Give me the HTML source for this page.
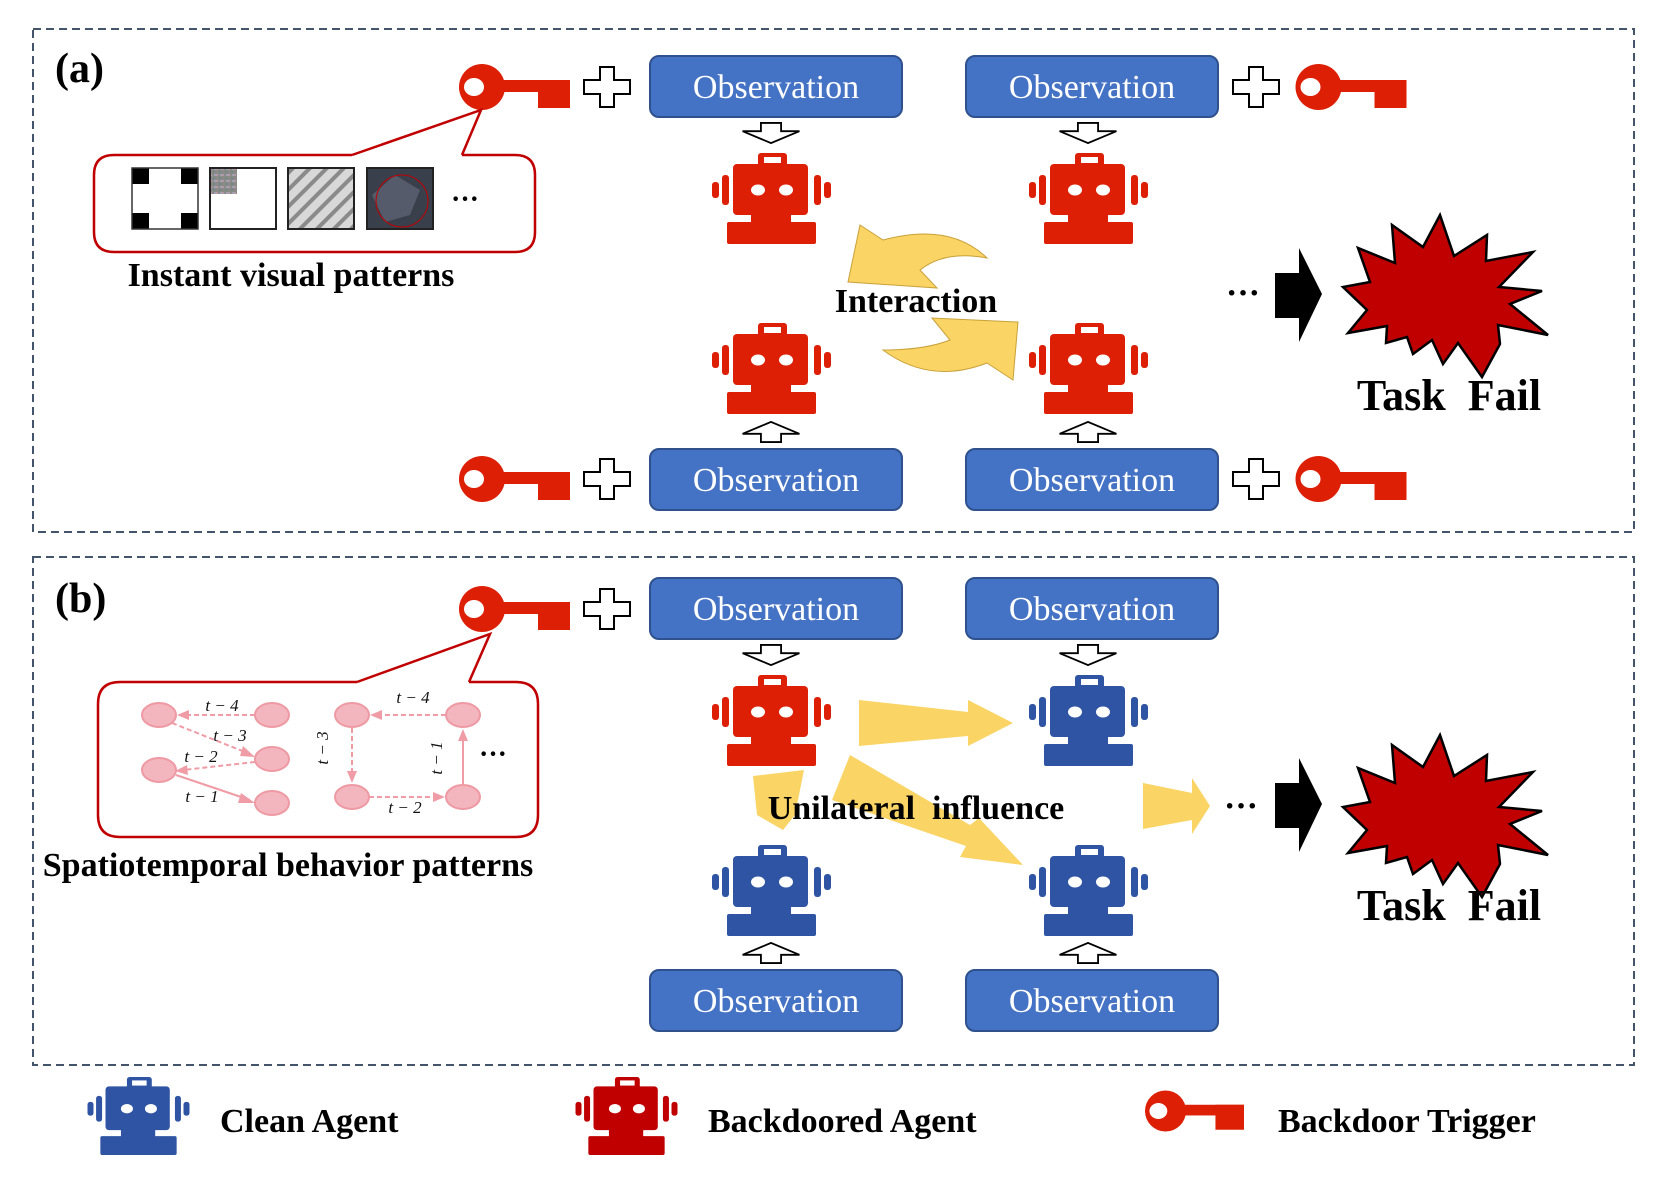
<!DOCTYPE html>
<html><head><meta charset="utf-8"><style>
html,body{margin:0;padding:0;background:#fff;}
svg{display:block;}
.obs{font-family:"Liberation Serif",serif;font-size:34px;fill:#fff;text-anchor:middle;}
.b{font-family:"Liberation Serif",serif;font-weight:bold;fill:#000;}
.t{font-family:"Liberation Serif",serif;font-style:italic;font-size:17px;fill:#111;}
</style></head><body>
<svg width="1661" height="1177" viewBox="0 0 1661 1177" xmlns="http://www.w3.org/2000/svg">
<defs>
<symbol id="robot" viewBox="0 0 119 91">
<rect x="46" y="0" width="29" height="14" rx="3"/>
<rect x="21" y="11" width="75" height="51" rx="4"/>
<rect x="10" y="22" width="7" height="30" rx="3"/>
<rect x="102" y="22" width="7" height="30" rx="3"/>
<rect x="0" y="29" width="7" height="16" rx="3"/>
<rect x="112" y="29" width="7" height="16" rx="3"/>
<rect x="39" y="60" width="40" height="11"/>
<rect x="15" y="69" width="89" height="22" rx="2"/>
<rect x="52" y="4" width="17" height="6" fill="#fff"/>
<ellipse cx="46" cy="37" rx="7" ry="5.5" fill="#fff"/>
<ellipse cx="74" cy="37" rx="7" ry="5.5" fill="#fff"/>
</symbol>
<symbol id="key" viewBox="0 0 111 46">
<circle cx="23" cy="23" r="23"/>
<rect x="40" y="16" width="71" height="12"/>
<rect x="79" y="16" width="32" height="28"/>
<ellipse cx="15" cy="23" rx="10" ry="9" fill="#fff"/>
</symbol>
<symbol id="plus" viewBox="0 0 48 42">
<polygon points="17,1 31,1 31,14 47,14 47,28 31,28 31,41 17,41 17,28 1,28 1,14 17,14" fill="#fff" stroke="#000" stroke-width="2"/>
</symbol>
<symbol id="dn" viewBox="0 0 66 24">
<polygon points="22,1 44,1 44,10 64,10 33,23 2,10 22,10" fill="#fff" stroke="#000" stroke-width="2"/>
</symbol>
<symbol id="up" viewBox="0 0 66 24">
<polygon points="22,23 44,23 44,14 64,14 33,1 2,14 22,14" fill="#fff" stroke="#000" stroke-width="2"/>
</symbol>
<pattern id="stripes" width="12" height="12" patternUnits="userSpaceOnUse" patternTransform="rotate(-45)">
<rect width="12" height="12" fill="#d8d8d8"/><rect width="12" height="4" fill="#8a8a8a"/>
</pattern>
<pattern id="noise" width="6" height="6" patternUnits="userSpaceOnUse">
<rect width="6" height="6" fill="#8a8a8a"/><rect width="2" height="2" fill="#b59aa0"/><rect x="3" y="3" width="2" height="2" fill="#6f8a7a"/><rect x="4" y="0" width="2" height="2" fill="#a0a0b8"/>
</pattern>
<g id="star"><polygon points="1440,215 1454,256 1487,235 1486,261 1533,252 1499,287 1542,291 1510,304 1548,335 1498,325 1500,344 1482,377 1458,343 1443,364 1432,340 1413,354 1407,337 1386,343 1387,326 1348,333 1367,310 1343,287 1370,282 1358,248 1395,263 1392,225 1423,247" fill="#C00000" stroke="#000" stroke-width="2.5" stroke-linejoin="miter"/></g>
<g id="barrow"><polygon points="1275,273 1299,273 1299,248 1322,294 1299,342 1299,318 1275,318" fill="#000"/></g>
</defs>

<!-- panel a -->
<rect x="33" y="29" width="1601" height="503" fill="none" stroke="#44546A" stroke-width="2" stroke-dasharray="8,5"/>
<text x="55" y="82" class="b" font-size="42">(a)</text>

<use href="#key" x="459" y="64" width="111" height="46" fill="#DD1F05"/>
<use href="#plus" x="583" y="66" width="48" height="42"/>
<rect x="650" y="56" width="252" height="61" rx="9" fill="#4472C4" stroke="#2F528F" stroke-width="2"/>
<text x="776" y="98" class="obs">Observation</text>
<rect x="966" y="56" width="252" height="61" rx="9" fill="#4472C4" stroke="#2F528F" stroke-width="2"/>
<text x="1092" y="98" class="obs">Observation</text>
<use href="#plus" x="1232" y="66" width="48" height="42"/>
<use href="#key" x="1294" y="64" width="114" height="46" fill="#DD1F05"/>

<use href="#dn" x="738" y="122" width="66" height="22"/>
<use href="#dn" x="1055" y="122" width="66" height="22"/>
<use href="#robot" x="712" y="153" width="119" height="91" fill="#DD1F05"/>
<use href="#robot" x="1029" y="153" width="119" height="91" fill="#DD1F05"/>
<use href="#robot" x="712" y="323" width="119" height="91" fill="#DD1F05"/>
<use href="#robot" x="1029" y="323" width="119" height="91" fill="#DD1F05"/>
<use href="#up" x="738" y="421" width="66" height="22"/>
<use href="#up" x="1055" y="421" width="66" height="22"/>

<use href="#key" x="459" y="456" width="111" height="46" fill="#DD1F05"/>
<use href="#plus" x="583" y="458" width="48" height="42"/>
<rect x="650" y="449" width="252" height="61" rx="9" fill="#4472C4" stroke="#2F528F" stroke-width="2"/>
<text x="776" y="491" class="obs">Observation</text>
<rect x="966" y="449" width="252" height="61" rx="9" fill="#4472C4" stroke="#2F528F" stroke-width="2"/>
<text x="1092" y="491" class="obs">Observation</text>
<use href="#plus" x="1232" y="458" width="48" height="42"/>
<use href="#key" x="1294" y="456" width="114" height="46" fill="#DD1F05"/>

<!-- callout a -->
<path d="M352,155 L481,110 L462,155" fill="#fff" stroke="#C00000" stroke-width="2.5"/>
<path d="M352,155 L114,155 Q94,155 94,175 L94,232 Q94,252 114,252 L515,252 Q535,252 535,232 L535,175 Q535,155 515,155 L462,155" fill="none" stroke="#C00000" stroke-width="2.5"/>
<rect x="132" y="168" width="66" height="61" fill="#000"/>
<polygon points="149,168 181,168 181,184 198,184 198,213 181,213 181,229 149,229 149,213 132,213 132,184 149,184" fill="#fff"/>
<rect x="132" y="168" width="66" height="61" fill="none" stroke="#333" stroke-width="1.5"/>
<rect x="210" y="168" width="66" height="61" fill="#fff" stroke="#222" stroke-width="2"/>
<rect x="211" y="169" width="26" height="25" fill="url(#noise)"/>
<rect x="288" y="168" width="66" height="61" fill="url(#stripes)" stroke="#222" stroke-width="2"/>
<rect x="367" y="168" width="66" height="61" fill="#3a3f4c" stroke="#222" stroke-width="2"/>
<path d="M372,195 L395,175 L420,190 L410,215 L385,222 Z" fill="#555b6a"/>
<circle cx="402" cy="201" r="26" fill="none" stroke="#C00000" stroke-width="1"/>
<text x="465" y="208" class="b" font-size="28" text-anchor="middle" font-weight="normal">···</text>
<text x="291" y="286" class="b" font-size="34" text-anchor="middle">Instant visual patterns</text>

<!-- interaction arrows -->
<path d="M860,225 L883,240 Q950,222 987,258 Q945,250 920,270 L937,288 L848,282 Z" fill="#FAD464" stroke="#C9A13A" stroke-width="1"/>
<path d="M1013,380 L987,363 Q930,385 883,350 Q925,350 950,340 L932,318 L1018,322 Z" fill="#FAD464" stroke="#C9A13A" stroke-width="1"/>
<text x="916" y="312" class="b" font-size="34" text-anchor="middle">Interaction</text>

<text x="1243" y="304" class="b" font-size="34" text-anchor="middle">···</text>
<use href="#barrow"/>
<use href="#star"/>
<text x="1449" y="410" class="b" font-size="44" text-anchor="middle" xml:space="preserve">Task  Fail</text>

<!-- panel b -->
<rect x="33" y="557" width="1601" height="508" fill="none" stroke="#44546A" stroke-width="2" stroke-dasharray="8,5"/>
<text x="55" y="612" class="b" font-size="42">(b)</text>

<use href="#key" x="459" y="586" width="111" height="46" fill="#DD1F05"/>
<use href="#plus" x="583" y="588" width="48" height="42"/>
<rect x="650" y="578" width="252" height="61" rx="9" fill="#4472C4" stroke="#2F528F" stroke-width="2"/>
<text x="776" y="620" class="obs">Observation</text>
<rect x="966" y="578" width="252" height="61" rx="9" fill="#4472C4" stroke="#2F528F" stroke-width="2"/>
<text x="1092" y="620" class="obs">Observation</text>

<use href="#dn" x="738" y="644" width="66" height="22"/>
<use href="#dn" x="1055" y="644" width="66" height="22"/>
<use href="#robot" x="712" y="675" width="119" height="91" fill="#DD1F05"/>
<use href="#robot" x="1029" y="675" width="119" height="91" fill="#2E54A3"/>
<use href="#robot" x="712" y="845" width="119" height="91" fill="#2E54A3"/>
<use href="#robot" x="1029" y="845" width="119" height="91" fill="#2E54A3"/>
<use href="#up" x="738" y="942" width="66" height="22"/>
<use href="#up" x="1055" y="942" width="66" height="22"/>
<rect x="650" y="970" width="252" height="61" rx="9" fill="#4472C4" stroke="#2F528F" stroke-width="2"/>
<text x="776" y="1012" class="obs">Observation</text>
<rect x="966" y="970" width="252" height="61" rx="9" fill="#4472C4" stroke="#2F528F" stroke-width="2"/>
<text x="1092" y="1012" class="obs">Observation</text>

<!-- yellow arrows b -->
<polygon points="859,700 968,712 968,700 1013,723 968,746 968,736 859,746" fill="#FAD464"/>
<polygon points="850,755 970,825 979,818 1023,865 960,857 966,846 832,800" fill="#FAD464"/>
<polygon points="753,776 804,770 795,815 783,830 757,815" fill="#FAD464"/>
<polygon points="1143,783 1192,793 1192,778 1210,806 1192,834 1192,820 1143,829" fill="#FAD464"/>
<text x="916" y="819" class="b" font-size="34" text-anchor="middle" xml:space="preserve">Unilateral  influence</text>
<text x="1241" y="817" class="b" font-size="34" text-anchor="middle">···</text>
<use href="#barrow" transform="translate(0,510)"/>
<use href="#star" transform="translate(0,520)"/>
<text x="1449" y="920" class="b" font-size="44" text-anchor="middle" xml:space="preserve">Task  Fail</text>

<!-- callout b -->
<path d="M357,682 L490,634 L469,682" fill="#fff" stroke="#C00000" stroke-width="2.5"/>
<path d="M357,682 L120,682 Q98,682 98,704 L98,815 Q98,837 120,837 L516,837 Q538,837 538,815 L538,704 Q538,682 516,682 L469,682" fill="none" stroke="#C00000" stroke-width="2.5"/>
<g stroke="#F09CA6" stroke-width="2" fill="none">
<line x1="255" y1="715" x2="185" y2="715" stroke-dasharray="5,3"/>
<line x1="172" y1="723" x2="250" y2="754" stroke-dasharray="5,3"/>
<line x1="255" y1="762" x2="183" y2="770" stroke-dasharray="5,3"/>
<line x1="176" y1="775" x2="250" y2="800"/>
<line x1="446" y1="715" x2="378" y2="715" stroke-dasharray="5,3"/>
<line x1="352" y1="728" x2="352" y2="776" stroke-dasharray="5,3"/>
<line x1="369" y1="797" x2="436" y2="797" stroke-dasharray="5,3"/>
<line x1="463" y1="785" x2="463" y2="738"/>
</g>
<g fill="#F09CA6">
<polygon points="177,715 189,710 189,720"/>
<polygon points="255,757 243,746 240,756"/>
<polygon points="175,771 187,765 188,775"/>
<polygon points="255,803 241,793 238,803"/>
<polygon points="370,715 382,710 382,720"/>
<polygon points="352,783 347,771 357,771"/>
<polygon points="445,797 433,792 433,802"/>
<polygon points="463,729 458,741 468,741"/>
</g>
<g fill="#F4B6BE" stroke="#EE9AA4" stroke-width="2">
<ellipse cx="159" cy="715" rx="17" ry="12"/>
<ellipse cx="159" cy="770" rx="17" ry="12"/>
<ellipse cx="272" cy="715" rx="17" ry="12"/>
<ellipse cx="272" cy="759" rx="17" ry="12"/>
<ellipse cx="272" cy="803" rx="17" ry="12"/>
<ellipse cx="352" cy="715" rx="17" ry="12"/>
<ellipse cx="352" cy="797" rx="17" ry="12"/>
<ellipse cx="463" cy="715" rx="17" ry="12"/>
<ellipse cx="463" cy="797" rx="17" ry="12"/>
</g>
<text x="222" y="711" class="t" text-anchor="middle">t − 4</text>
<text x="230" y="741" class="t" text-anchor="middle">t − 3</text>
<text x="201" y="762" class="t" text-anchor="middle">t − 2</text>
<text x="202" y="802" class="t" text-anchor="middle">t − 1</text>
<text x="413" y="703" class="t" text-anchor="middle">t − 4</text>
<text x="405" y="813" class="t" text-anchor="middle">t − 2</text>
<text class="t" text-anchor="middle" transform="translate(328,748) rotate(-90)">t − 3</text>
<text class="t" text-anchor="middle" transform="translate(442,758) rotate(-90)">t − 1</text>
<text x="493" y="763" class="b" font-size="28" text-anchor="middle">···</text>
<text x="288" y="876" class="b" font-size="34" text-anchor="middle">Spatiotemporal behavior patterns</text>

<!-- legend -->
<use href="#robot" x="85" y="1077" width="107" height="78" fill="#2E54A3" preserveAspectRatio="none"/>
<text x="220" y="1132" class="b" font-size="34">Clean Agent</text>
<use href="#robot" x="573" y="1077" width="107" height="78" fill="#C00000" preserveAspectRatio="none"/>
<text x="708" y="1132" class="b" font-size="34">Backdoored Agent</text>
<use href="#key" x="1145" y="1088" width="99" height="46" fill="#DD1F05" preserveAspectRatio="none"/>
<text x="1278" y="1132" class="b" font-size="34">Backdoor Trigger</text>
</svg>
</body></html>
